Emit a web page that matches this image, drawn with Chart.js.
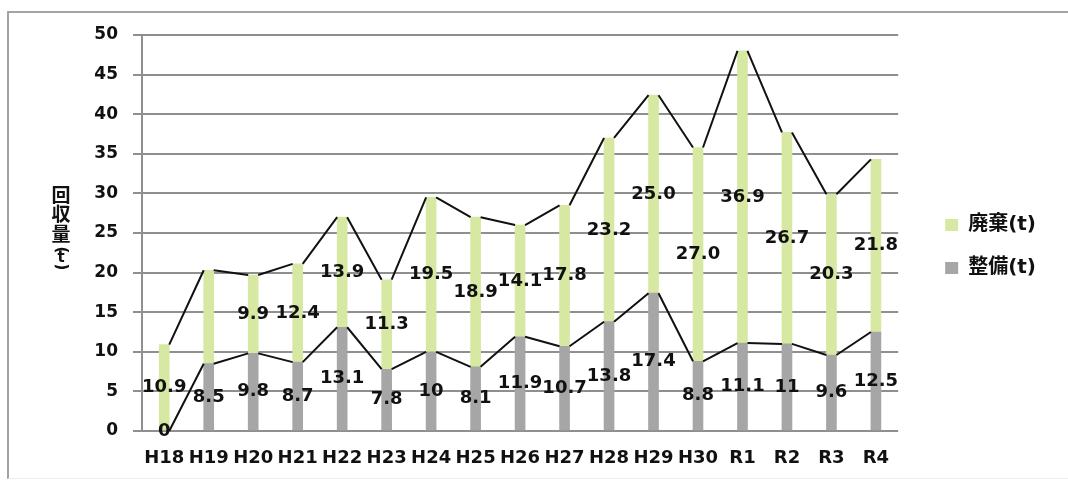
<!DOCTYPE html>
<html><head><meta charset="utf-8">
<script src="https://cdn.jsdelivr.net/npm/chart.js@4/dist/chart.umd.min.js"></script>
<style>
html,body{margin:0;padding:0;background:#fff;overflow:hidden;}
#wrap{position:relative;width:1068px;height:480px;overflow:hidden;}
#frame{position:absolute;left:7px;top:11px;width:1200px;height:465px;border-top:2px solid #a3a3a3;border-left:2px solid #a3a3a3;border-bottom:1px solid #eeeeee;pointer-events:none;}
canvas{position:absolute;left:0;top:0;}
</style></head><body>
<div id="wrap"><canvas id="c" width="1068" height="480"></canvas><div id="frame"></div></div>
<script>
const categories = ['H18','H19','H20','H21','H22','H23','H24','H25','H26','H27','H28','H29','H30','R1','R2','R3','R4'];
const seibi = [0, 8.5, 9.8, 8.7, 13.1, 7.8, 10, 8.1, 11.9, 10.7, 13.8, 17.4, 8.8, 11.1, 11, 9.6, 12.5];
const haiki = [10.9, 11.8, 9.9, 12.4, 13.9, 11.3, 19.5, 18.9, 14.1, 17.8, 23.2, 25.0, 27.0, 36.9, 26.7, 20.3, 21.8];
const haikiHiddenLabels = [1];
const seriesNames = ['整備(t)', '廃棄(t)'];
const yAxisTitleChars = ['回', '収', '量', '(', 't', ')'];
const yMin = 0, yMax = 50, yStep = 5;

const FONT = "'DejaVu Sans', 'Noto Sans CJK JP', sans-serif";
const CJK = "'Noto Sans CJK JP', 'DejaVu Sans', sans-serif";

const seriesLinesAndLabels = {
  id: 'seriesLinesAndLabels',
  afterDatasetsDraw(chart) {
    const ctx = chart.ctx;
    ctx.save();
    // Excel style series lines: from right top corner of one bar to left top corner of the next
    ctx.strokeStyle = '#111';
    ctx.lineWidth = 2;
    ctx.lineJoin = 'round';
    [0, 1].forEach(di => {
      const bars = chart.getDatasetMeta(di).data;
      ctx.beginPath();
      for (let i = 0; i < bars.length - 1; i++) {
        const a = bars[i], b = bars[i + 1];
        ctx.moveTo(a.x + a.width / 2, a.y);
        ctx.lineTo(b.x - b.width / 2, b.y);
      }
      ctx.stroke();
    });
    // data labels, centred in each segment
    ctx.fillStyle = '#111';
    ctx.font = 'bold 18px ' + FONT;
    ctx.textAlign = 'center';
    ctx.textBaseline = 'middle';
    chart.data.datasets.forEach((ds, di) => {
      const bars = chart.getDatasetMeta(di).data;
      bars.forEach((el, i) => {
        if (di === 1 && haikiHiddenLabels.includes(i)) return;
        const v = ds.data[i];
        const txt = di === 0 ? String(v) : v.toFixed(1);
        ctx.fillText(txt, el.x, (el.y + el.base) / 2);
      });
    });
    ctx.restore();
  },
  afterDraw(chart) {
    const ctx = chart.ctx;
    ctx.save();
    ctx.fillStyle = '#111';
    ctx.textAlign = 'center';
    ctx.textBaseline = 'middle';
    const x = 61;
    const ys = [195, 214, 234, 250, 258, 267];
    yAxisTitleChars.forEach((ch, i) => {
      if (ch === '(' || ch === ')') {
        ctx.save();
        ctx.translate(x, ys[i]);
        ctx.rotate(Math.PI / 2);
        ctx.font = 'bold 15px ' + FONT;
        ctx.fillText(ch, 0, 0);
        ctx.restore();
      } else if (ch === 't') {
        ctx.font = 'bold 15px ' + FONT;
        ctx.fillText(ch, x, ys[i]);
      } else {
        ctx.font = 'bold 19px ' + CJK;
        ctx.fillText(ch, x, ys[i]);
      }
    });
    ctx.restore();
  }
};

new Chart(document.getElementById('c'), {
  type: 'bar',
  data: {
    labels: categories,
    datasets: [
      { label: seriesNames[0], data: seibi, backgroundColor: '#a6a6a6', barThickness: 10, stack: 's' },
      { label: seriesNames[1], data: haiki, backgroundColor: '#d6e8a2', barThickness: 10, stack: 's' }
    ]
  },
  options: {
    responsive: false,
    animation: false,
    devicePixelRatio: 1,
    layout: { padding: { top: 13, bottom: 0, left: 0, right: 22 } },
    plugins: {
      tooltip: { enabled: false },
      legend: {
        position: 'right',
        reverse: true,
        labels: {
          boxWidth: 13,
          boxHeight: 12,
          padding: 23,
          color: '#111',
          font: { family: FONT, size: 20, weight: 'bold' }
        }
      }
    },
    scales: {
      x: {
        stacked: true,
        grid: { display: false, drawTicks: false },
        border: { display: false },
        ticks: {
          color: '#111',
          font: { family: FONT, size: 18, weight: 'bold' },
          maxRotation: 0, minRotation: 0, autoSkip: false, padding: 17
        },
        afterFit(s) { s.height = 49; }
      },
      topGap: {
        type: 'linear',
        axis: 'x',
        position: 'top',
        display: true,
        grid: { display: false, drawTicks: false },
        border: { display: false },
        ticks: { display: false },
        afterFit(s) { s.height = 22; }
      },
      y: {
        stacked: true,
        min: yMin, max: yMax,
        ticks: {
          stepSize: yStep,
          color: '#111',
          padding: 15,
          font: { family: FONT, size: 17, weight: 'bold' }
        },
        grid: { color: '#8f8f8f', lineWidth: 2, tickLength: 9 },
        border: { color: '#8f8f8f', width: 2 },
        afterFit(s) { s.width = 142; }
      },
      gap: {
        type: 'linear',
        position: 'right',
        display: true,
        grid: { display: false, drawTicks: false },
        border: { display: false },
        ticks: { display: false },
        afterFit(s) { s.width = 24; }
      }
    }
  },
  plugins: [seriesLinesAndLabels]
});
</script>
</body></html>
